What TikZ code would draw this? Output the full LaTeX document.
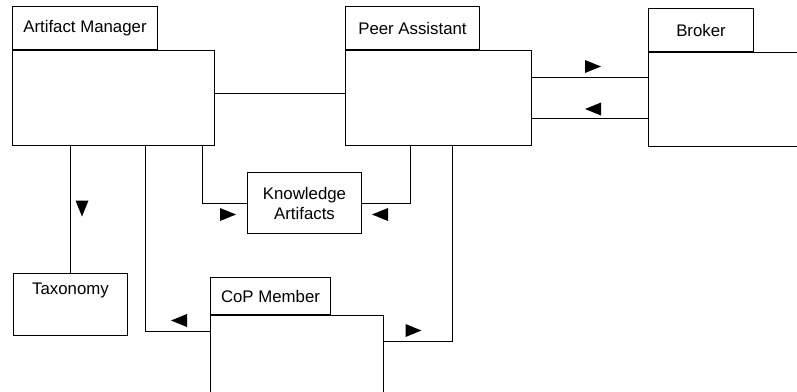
\documentclass[tikz,border=0pt]{standalone}
\usepackage{fontspec}
\setmainfont{Liberation Sans}
\usetikzlibrary{positioning}
\tikzset{
  tabbox/.style={draw, line width=1pt, inner sep=0pt, anchor=north west, minimum height=43pt},
  bodybox/.style={draw, line width=1pt, inner sep=0pt, anchor=north west},
  plainbox/.style={draw, line width=1pt, inner sep=0pt, anchor=north west, align=center},
  conn/.style={line width=1pt},
  pics/nav/.style={code={\fill[rotate=#1] (-8,-6.5) -- (8,0) -- (-8,6.5) -- cycle;}},
}

\begin{document}
\begin{tikzpicture}[x=1pt, y=-1pt, font=\fontsize{16.8}{20}\selectfont]
  \useasboundingbox (0,0) rectangle (797,391);
  \clip (0,0) rectangle (797,391);
  \fill[white] (0,0) rectangle (797,391);

  % classes: name tab + body
  \node[tabbox, minimum width=145pt] (amtab) at (12,6) {Artifact Manager};
  \node[bodybox, minimum width=202pt, minimum height=95pt] (am) at (amtab.south west) {};
  \node[tabbox, minimum width=134pt] (patab) at (345,6) {Peer Assistant};
  \node[bodybox, minimum width=186pt, minimum height=95pt] (pa) at (patab.south west) {};
  \node[tabbox, minimum width=105pt] (brktab) at (648,8) {Broker};
  \node[bodybox, minimum width=170pt, minimum height=94pt] (brk) at (brktab.south west) {};
  \node[tabbox, minimum width=120pt, minimum height=37pt] (coptab) at (210,277) {CoP Member};
  \node[bodybox, minimum width=173pt, minimum height=100pt] (cop) at (coptab.south west) {};

  % plain boxes
  \node[plainbox, minimum width=114pt, minimum height=62pt] (tax) at (13,273) {};
  \node[inner sep=0pt, below=10pt of tax.north] (taxname) {Taxonomy};
  \node[plainbox, minimum width=114pt, minimum height=61pt] (ka) at (247,172) {Knowledge\\Artifacts};

  % associations
  \draw[conn] (am.east |- 0,93) -- (pa.west |- 0,93);
  \draw[conn] (pa.east |- 0,77) -- (brk.west |- 0,77);
  \draw[conn] (pa.east |- 0,118) -- (brk.west |- 0,118);
  \draw[conn] (tax.north) -- (tax.north |- am.south);
  \draw[conn] (am.south -| 202,0) |- (ka.west);
  \draw[conn] (pa.south -| 410,0) |- (ka.east);
  \draw[conn] (am.south -| 145,0) |- (cop.west |- 0,331);
  \draw[conn] (pa.south -| 452,0) |- (cop.east |- 0,341);

  % navigability marks
  \pic at (593,66.5) {nav=0};
  \pic at (593,109) {nav=180};
  \pic at (82,208.5) {nav=-90};
  \pic at (228,214.5) {nav=0};
  \pic at (380,214.5) {nav=180};
  \pic at (179,320.5) {nav=180};
  \pic at (413.5,330.5) {nav=0};
\end{tikzpicture}
\end{document}
